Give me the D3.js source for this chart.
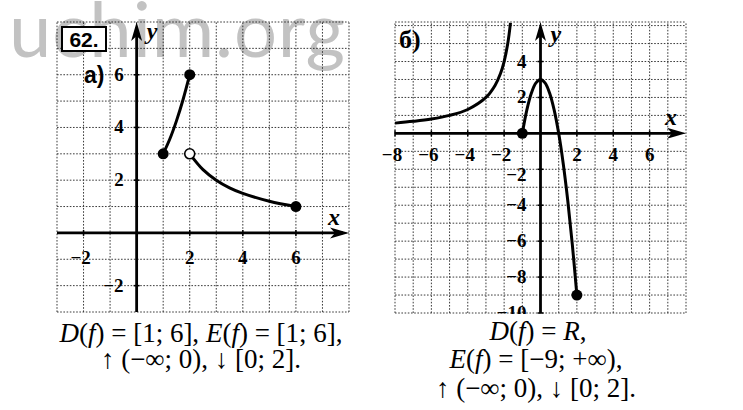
<!DOCTYPE html>
<html><head><meta charset="utf-8">
<script src="https://cdn.jsdelivr.net/npm/d3@7"></script>
<style>html,body{margin:0;padding:0;background:#fff;}svg{display:block;}</style>
</head><body>
<svg id="c" width="743" height="410"></svg>
<script>
// ---- data ----
const aXTicks = [-2, 2, 4, 6];
const aYTicks = [6, 4, 2, -2];
const aRise = [[1,3],[1.25,3.56],[1.5,4.25],[1.75,5.06],[2,6]];
const aFall = [[2,3],[2.5,2.4],[3,2],[3.5,1.71],[4,1.5],[5,1.2],[6,1]];
const aFilled = [[1,3],[2,6],[6,1]];
const aOpen = [[2,3]];

const bXTicks = [-8, -6, -4, -2, 2, 4, 6];
const bYTicks = [4, 2, -2, -4, -6, -8, -10];
const bBranch = [[-8,0.57],[-7,0.67],[-6,0.8],[-5,1],[-4,1.33],[-3,2],[-2.5,2.67],[-2.2,3.33],[-2,4],[-1.8,5],[-1.65,6.15]];
const bParab = [[-1,0],[-0.75,1.31],[-0.5,2.25],[-0.25,2.81],[0,3],[0.25,2.81],[0.5,2.25],[0.75,1.31],[1,0],[1.25,-1.69],[1.5,-3.75],[1.75,-6.19],[2,-9]];
const bFilled = [[-1,0],[2,-9]];

const svg = d3.select("#c");

// watermark
svg.append("text").attr("x", 9).attr("y", 57)
  .attr("textLength", 336).attr("lengthAdjust", "spacing")
  .style("font-family", "Lato, 'Open Sans', sans-serif").style("font-weight", 400)
  .style("font-size", "76px").attr("fill", "#c2c2c2").text("uchim.org");

function panel(x, y, xTickVals, yTickVals, opts) {
  const g = svg.append("g");
  const [x0, x1] = x.domain(), [y0, y1] = y.domain();
  const gx = d3.range(Math.ceil(x0), Math.floor(x1) + 1);
  const gy = d3.range(Math.ceil(y0), Math.floor(y1) + 1);
  if (y1 !== Math.floor(y1)) gy.push(y1);
  const grid = g.append("g").attr("stroke", "#1a1a1a").attr("stroke-width", 1)
    .attr("stroke-dasharray", "1.6 1.6").attr("opacity", 0.85);
  grid.selectAll(".v").data(gx).join("line")
    .attr("x1", d => x(d)).attr("x2", d => x(d)).attr("y1", y(y0)).attr("y2", y(y1));
  grid.selectAll(".h").data(gy).join("line")
    .attr("y1", d => y(d)).attr("y2", d => y(d)).attr("x1", x(x0)).attr("x2", x(x1));
  // axes
  const ax = g.append("g");
  ax.append("line").attr("x1", x(x0)).attr("x2", x(x1) - 6).attr("y1", y(0)).attr("y2", y(0))
    .attr("stroke", "#000").attr("stroke-width", 2.8);
  ax.append("line").attr("x1", x(0)).attr("x2", x(0)).attr("y1", y(y0)).attr("y2", y(y1) + 6)
    .attr("stroke", "#000").attr("stroke-width", 2.8);
  ax.append("path").attr("d", `M${x(x1)},${y(0)} L${x(x1) - 19},${y(0) - 5.5} L${x(x1) - 14},${y(0)} L${x(x1) - 19},${y(0) + 5.5} Z`).attr("fill", "#000");
  ax.append("path").attr("d", `M${x(0)},${y(y1)} L${x(0) - 5.5},${y(y1) + 19} L${x(0)},${y(y1) + 14} L${x(0) + 5.5},${y(y1) + 19} Z`).attr("fill", "#000");
  // ticks
  ax.selectAll(".tx").data(xTickVals).join("line").attr("x1", d => x(d)).attr("x2", d => x(d))
    .attr("y1", y(0) - 3).attr("y2", y(0) + 3).attr("stroke", "#000").attr("stroke-width", 1.5);
  ax.selectAll(".ty").data(yTickVals).join("line").attr("y1", d => y(d)).attr("y2", d => y(d))
    .attr("x1", x(0) - 3).attr("x2", x(0) + 3).attr("stroke", "#000").attr("stroke-width", 1.5);
  const lab = g.append("g").style("font-family", "'Liberation Serif', 'DejaVu Serif', serif")
    .style("font-weight", "bold").style("font-size", "19px").attr("fill", "#000");
  lab.selectAll(".lx").data(xTickVals).join("text")
    .attr("x", d => x(d) + (d < 0 ? -3 : 0)).attr("y", y(0) + opts.xLabDy)
    .attr("text-anchor", "middle").text(d => d < 0 ? "\u2212" + (-d) : d);
  lab.selectAll(".ly").data(yTickVals).join("text")
    .attr("x", x(0) - opts.yLabDx).attr("y", d => y(d) + 6 + (d === opts.yShift ? 6 : 0))
    .attr("text-anchor", "end").text(d => d < 0 ? "\u2212" + (-d) : d)
    .attr("clip-path", opts.clip ? "url(#" + opts.clip + ")" : null);
  // axis names
  const nm = g.append("g").style("font-family", "'Liberation Serif', 'DejaVu Serif', serif")
    .style("font-style", "italic").style("font-weight", "bold").style("font-size", "24px");
  nm.append("text").attr("x", x(x1) - 21).attr("y", y(0) - 8).text("x");
  nm.append("text").attr("x", x(0) + 10).attr("y", y(y1) + opts.yNameDy).text("y");
  return g;
}

// clip for bottom of right panel
svg.append("defs").append("clipPath").attr("id", "bclip")
  .append("rect").attr("x", 380).attr("y", 0).attr("width", 360).attr("height", 314);

// ---- panel a ----
const aX = d3.scaleLinear().domain([-3, 8]).range([57, 349]);
const aY = d3.scaleLinear().domain([-3, 8]).range([312, 22]);
const ga = panel(aX, aY, aXTicks, aYTicks, {xLabDy: 31, yLabDx: 13, yNameDy: 17, yShift: null});

const lineA = d3.line().x(d => aX(d[0])).y(d => aY(d[1])).curve(d3.curveCatmullRom);
[aRise, aFall].forEach(s => ga.append("path").attr("d", lineA(s)).attr("fill", "none")
  .attr("stroke", "#000").attr("stroke-width", 3));
ga.selectAll(".fa").data(aFilled).join("circle").attr("cx", d => aX(d[0])).attr("cy", d => aY(d[1]))
  .attr("r", 5.5).attr("fill", "#000");
ga.selectAll(".oa").data(aOpen).join("circle").attr("cx", d => aX(d[0])).attr("cy", d => aY(d[1]))
  .attr("r", 5).attr("fill", "#fff").attr("stroke", "#000").attr("stroke-width", 1.6);

// box "62."
svg.append("rect").attr("x", 62).attr("y", 27).attr("width", 44).attr("height", 24)
  .attr("fill", "#fff").attr("stroke", "#000").attr("stroke-width", 2);
svg.append("text").attr("x", 84).attr("y", 47).attr("text-anchor", "middle")
  .style("font-family", "'Liberation Sans', Arial, sans-serif").style("font-weight", "bold")
  .style("font-size", "21px").text("62.");
svg.append("text").attr("x", 84).attr("y", 83)
  .style("font-family", "'Liberation Sans', Arial, sans-serif").style("font-weight", "bold")
  .style("font-size", "23px").text("а)");

// ---- panel b ----
const bX = d3.scaleLinear().domain([-8, 8]).range([395, 686]);
const bY = d3.scaleLinear().domain([-10, 6.2]).range([313, 22]);
const gb = panel(bX, bY, bXTicks, bYTicks, {xLabDy: 28, yLabDx: 14, yNameDy: 20, yShift: -2, clip: "bclip"});

const lineB = d3.line().x(d => bX(d[0])).y(d => bY(d[1])).curve(d3.curveCatmullRom);
[bBranch, bParab].forEach(s => gb.append("path").attr("d", lineB(s)).attr("fill", "none")
  .attr("stroke", "#000").attr("stroke-width", 3));
gb.selectAll(".fb").data(bFilled).join("circle").attr("cx", d => bX(d[0])).attr("cy", d => bY(d[1]))
  .attr("r", 5.5).attr("fill", "#000");
svg.append("text").attr("x", 399).attr("y", 48)
  .style("font-family", "'Liberation Serif', serif").style("font-weight", "bold")
  .style("font-size", "26px").text("б)");

// ---- captions ----
const cap = svg.append("g").style("font-family", "'Liberation Serif', 'DejaVu Serif', serif")
  .style("font-size", "27px").attr("fill", "#000");
function line(xc, yb, parts) {
  const t = cap.append("text").attr("x", xc).attr("y", yb).attr("text-anchor", "middle");
  parts.forEach(p => t.append("tspan").style("font-style", p[1] ? "italic" : "normal").text(p[0]));
}
line(201, 342, [["D",1],["(",0],["f",1],[") = [1; 6],  ",0],["E",1],["(",0],["f",1],[") = [1; 6],",0]]);
line(201, 368, [["\u2191 (\u2212\u221e; 0), \u2193 [0; 2].",0]]);
line(538, 340, [["D",1],["(",0],["f",1],[") = ",0],["R",1],[",",0]]);
line(536, 368, [["E",1],["(",0],["f",1],[") = [\u22129; +\u221e),",0]]);
line(536, 397, [["\u2191 (\u2212\u221e; 0), \u2193 [0; 2].",0]]);
</script>
</body></html>
